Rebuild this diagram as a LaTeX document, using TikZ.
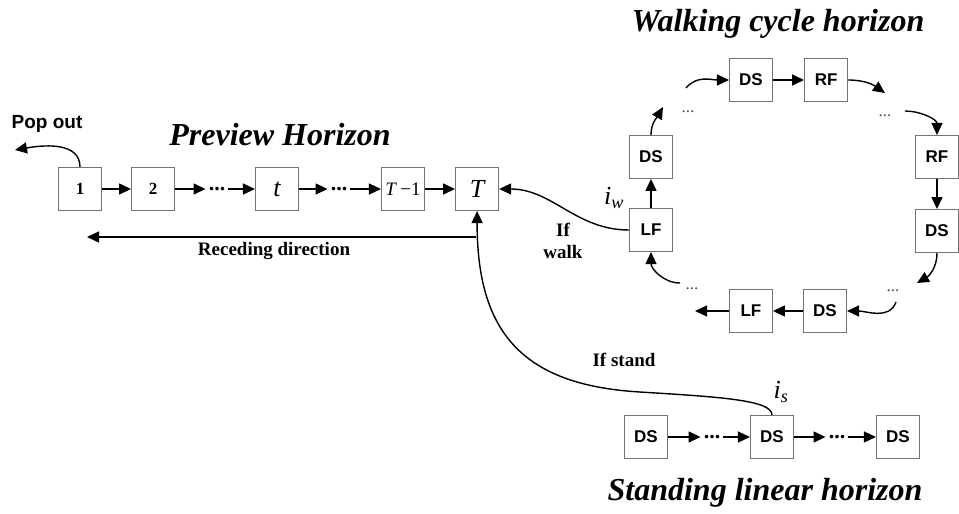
\documentclass[tikz,border=0pt]{standalone}
\usepackage{fontspec}
\setmainfont{Liberation Serif}
\setsansfont{Liberation Sans}
\usetikzlibrary{arrows.meta}
\usetikzlibrary{positioning}

\begin{document}
\begin{tikzpicture}[x=1pt,y=1pt]

\tikzstyle{mybox} = [rectangle,fill=white,draw=black!55,line width=1.1pt,
minimum size=43pt,inner sep=0pt]
\tikzstyle{mydots} = [inner sep=3pt,font=\fontsize{22}{22}\selectfont\bfseries]
\tikzstyle{mysmalldots} = [inner sep=1pt,text=black!70,font=\fontsize{17}{17}\selectfont]
\tikzstyle{myarrow} = [-{Triangle[length=12pt,width=11pt]},line width=1.4pt]
\tikzstyle{mytitle} = [font=\fontsize{32}{32}\selectfont\bfseries\itshape]
\tikzstyle{mylabel} = [font=\fontsize{19}{22}\selectfont\bfseries]
\tikzstyle{mystep} = [font=\fontsize{17}{17}\selectfont\sffamily\bfseries]
\tikzstyle{myindex} = [font=\fontsize{26}{26}\selectfont\itshape]

\useasboundingbox (0,0) rectangle (959,-514);

% preview horizon
\node[mybox,font=\fontsize{17}{17}\selectfont\bfseries] (p1) at (80,-189) {1};
\node[mybox,font=\fontsize{17}{17}\selectfont\bfseries,right=29pt of p1] (p2) {2};
\node[mydots] (pd1) at (217,-189) {...};
\node[mybox,font=\fontsize{26}{26}\selectfont\itshape] (pt) at (277,-189) {t};
\node[mydots] (pd2) at (339,-189) {...};
\node[mybox,font=\fontsize{19}{19}\selectfont] (pTm) at (403,-189) {\textit{T}\,−1};
\node[mybox,font=\fontsize{26}{26}\selectfont\itshape,right=30pt of pTm] (pT) {T};

\draw[myarrow] (p1) -- (p2);
\draw[myarrow] (p2) -- (pd1);
\draw[myarrow] (pd1) -- (pt);
\draw[myarrow] (pt) -- (pd2);
\draw[myarrow] (pd2) -- (pTm);
\draw[myarrow] (pTm) -- (pT);

\node[mytitle] (prevt) at (280,-135) {Preview Horizon};

\coordinate (pop) at (15,-150);
\draw[myarrow] (p1.north) to[out=90,in=10] (pop);
\node[font=\fontsize{19}{19}\selectfont\sffamily\bfseries] (popl) at (47,-124) {Pop out};

\coordinate (rs) at (476,-237);
\coordinate (re) at (87,-237);
\draw[myarrow] (rs) -- (re);
\node[mylabel] (recl) at (274,-251) {Receding direction};

% walking cycle horizon
\node[mybox,mystep] (wLF1) at (651,-230) {LF};
\node[mybox,mystep,above=29pt of wLF1] (wDS1) {DS};
\node[mybox,mystep] (wDS2) at (751,-80) {DS};
\node[mybox,mystep,right=31pt of wDS2] (wRF2) {RF};
\node[mybox,mystep] (wRF3) at (937,-157) {RF};
\node[mybox,mystep,below=30pt of wRF3] (wDS3) {DS};
\node[mybox,mystep] (wDS4) at (825,-311) {DS};
\node[mybox,mystep,left=30pt of wDS4] (wLF4) {LF};

\node[mysmalldots] (wd1) at (688,-112) {...};
\node[mysmalldots] (wd2) at (885,-116) {...};
\node[mysmalldots] (wd3) at (893,-291) {...};
\node[mysmalldots] (wd4) at (692,-289) {...};

\draw[myarrow] (wLF1) -- (wDS1);
\coordinate (c1) at (663,-107);
\draw[myarrow] (wDS1.north) to[out=90,in=-120] (c1);
\coordinate (c2) at (686,-88);
\draw[myarrow] (c2) to[out=50,in=180] (wDS2.west);
\draw[myarrow] (wDS2) -- (wRF2);
\coordinate (c3) at (885,-93);
\draw[myarrow] (wRF2.east) to[out=0,in=145] (c3);
\coordinate (c4) at (905,-111);
\draw[myarrow] (c4) to[out=0,in=90] (wRF3.north);
\draw[myarrow] (wRF3) -- (wDS3);
\coordinate (c5) at (917,-283);
\draw[myarrow] (wDS3.south) to[out=-90,in=30] (c5);
\coordinate (c6) at (896,-302);
\draw[myarrow] (c6) to[out=-110,in=0] (wDS4.east);
\draw[myarrow] (wDS4) -- (wLF4);
\coordinate (c7) at (695,-311);
\draw[myarrow] (wLF4) -- (c7);
\coordinate (c8) at (680,-283);
\draw[myarrow] (c8) to[out=180,in=-90] (wLF1.south);

\node[mytitle] (wt) at (778,-24) {Walking cycle horizon};

\node[myindex] (iw) at (614,-198) {i\textsubscript{w}};
\draw[myarrow] (wLF1.west) to[out=180,in=0] (pT.east);
\node[mylabel,align=center] (walkl) at (563,-241) {If\\walk};

% standing linear horizon
\node[mybox,mystep] (sDS1) at (646,-437) {DS};
\node[mydots] (sd1) at (712,-437) {...};
\node[mybox,mystep] (sDS2) at (772,-437) {DS};
\node[mydots] (sd2) at (837,-437) {...};
\node[mybox,mystep] (sDS3) at (898,-437) {DS};

\draw[myarrow] (sDS1) -- (sd1);
\draw[myarrow] (sd1) -- (sDS2);
\draw[myarrow] (sDS2) -- (sd2);
\draw[myarrow] (sd2) -- (sDS3);

\node[myindex] (is) at (781,-392) {i\textsubscript{s}};
\coordinate (sm) at (640,-392);
\draw[myarrow] (sDS2.north) .. controls (772,-400) and (720,-397) .. (sm)
  .. controls (520,-385) and (477,-330) .. (pT.south);
\node[mylabel] (standl) at (624,-360) {If stand};

\node[mytitle] (st) at (765,-493) {Standing linear horizon};

\end{tikzpicture}
\end{document}
